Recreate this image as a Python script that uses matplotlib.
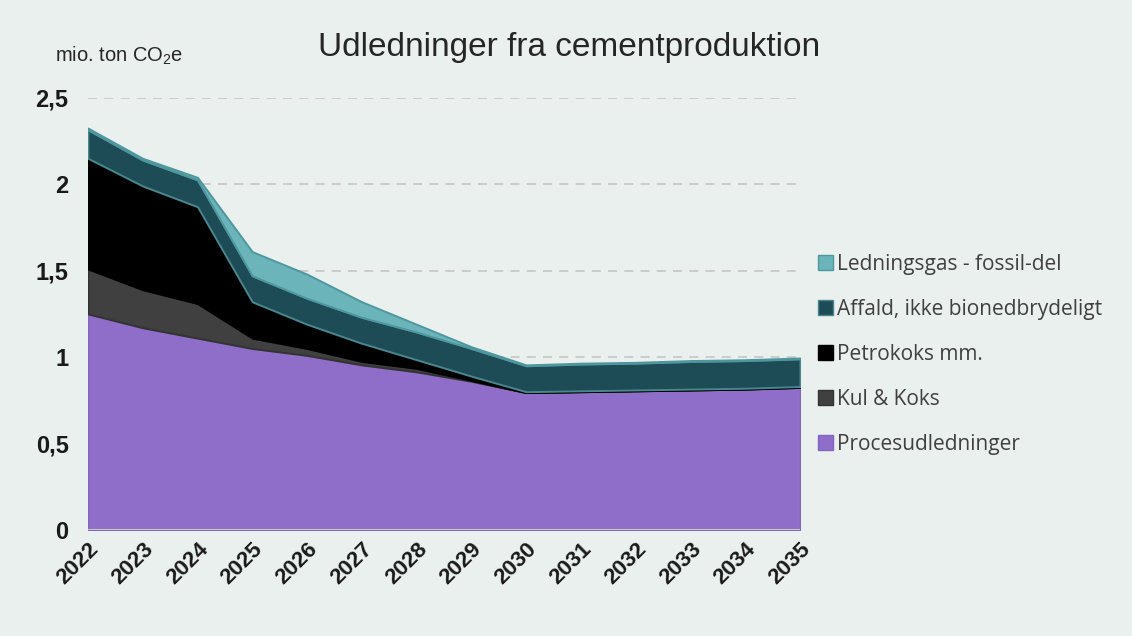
import numpy as np
import matplotlib.pyplot as plt
from matplotlib.patches import Patch

years = list(range(2022, 2036))
proces = [1.25, 1.17, 1.11, 1.05, 1.01, 0.955, 0.915, 0.86, 0.795, 0.80, 0.805, 0.81, 0.815, 0.825]
kul = [0.26, 0.22, 0.20, 0.06, 0.04, 0.02, 0.02, 0.005, 0.0, 0.0, 0.0, 0.0, 0.0, 0.0]
petrokoks = [0.64, 0.60, 0.56, 0.21, 0.14, 0.105, 0.05, 0.025, 0.005, 0.005, 0.005, 0.005, 0.005, 0.005]
affald = [0.165, 0.15, 0.155, 0.15, 0.15, 0.15, 0.16, 0.16, 0.15, 0.155, 0.155, 0.16, 0.16, 0.16]
ledningsgas = [0.01, 0.01, 0.015, 0.14, 0.14, 0.09, 0.045, 0.01, 0.005, 0.005, 0.005, 0.005, 0.005, 0.005]

labels = ['Procesudledninger', 'Kul & Koks', 'Petrokoks mm.',
          'Affald, ikke bionedbrydeligt', 'Ledningsgas - fossil-del']
colors = ['#8F6ECA', '#404040', '#000000', '#1E4C56', '#6BB4BA']
edges = ['#8466C0', '#333333', '#000000', '#4A868D', '#4F979E']

bg = '#EAF0EE'
plt.rcParams['font.family'] = ['Liberation Sans', 'DejaVu Sans']
plt.rcParams['mathtext.default'] = 'regular'

fig = plt.figure(figsize=(11.32, 6.36), dpi=100, facecolor=bg)
ax = fig.add_axes([0.0777, 0.1667, 0.629, 0.6795], facecolor=bg)

x = np.array(years)
polys = ax.stackplot(x, proces, kul, petrokoks, affald, ledningsgas,
                     colors=colors, zorder=3)
for p, ec in zip(polys, edges):
    p.set_edgecolor(ec)
    p.set_linewidth(1.4)

ax.set_xlim(2022, 2035)
ax.set_ylim(0, 2.5)
ax.set_yticks([0, 0.5, 1, 1.5, 2, 2.5])
ax.set_yticklabels(['0', '0,5', '1', '1,5', '2', '2,5'], fontsize=17,
                   fontweight='bold', color='#1a1a1a')
ax.set_xticks(years)
ax.set_xticklabels([str(y) for y in years], rotation=45, ha='right',
                   rotation_mode='anchor', fontsize=16, fontweight='bold',
                   color='#1a1a1a')
ax.tick_params(axis='both', length=0)
ax.tick_params(axis='y', pad=14)
ax.tick_params(axis='x', pad=6)
for s in ax.spines.values():
    s.set_visible(False)
ax.axhline(0, color='#C8C8C8', lw=1.5, zorder=4)
for yv in [0.5, 1, 1.5, 2, 2.5]:
    ax.axhline(yv, color='#C9C9C9', lw=1.3, ls=(0, (5, 4)), zorder=1)

fig.text(0.503, 0.925, 'Udledninger fra cementproduktion', ha='center', va='center',
         fontsize=24, color='#262626')
fig.text(0.049, 0.912, 'mio. ton CO$_2$e', ha='left', va='center',
         fontsize=14.5, color='#262626')

handles = [Patch(facecolor=c, edgecolor=e, lw=1) for c, e in zip(colors, edges)][::-1]
leg = fig.legend(handles, labels[::-1], loc='upper left',
                 bbox_to_anchor=(0.723, 0.601), frameon=False,
                 handlelength=0.7, handleheight=0.7, handletextpad=0.2,
                 labelspacing=1.15, borderaxespad=0, borderpad=0,
                 prop={'family': 'Open Sans', 'size': 15})
for t in leg.get_texts():
    t.set_color('#404040')

fig.savefig('out.png', dpi=100, facecolor=bg)
